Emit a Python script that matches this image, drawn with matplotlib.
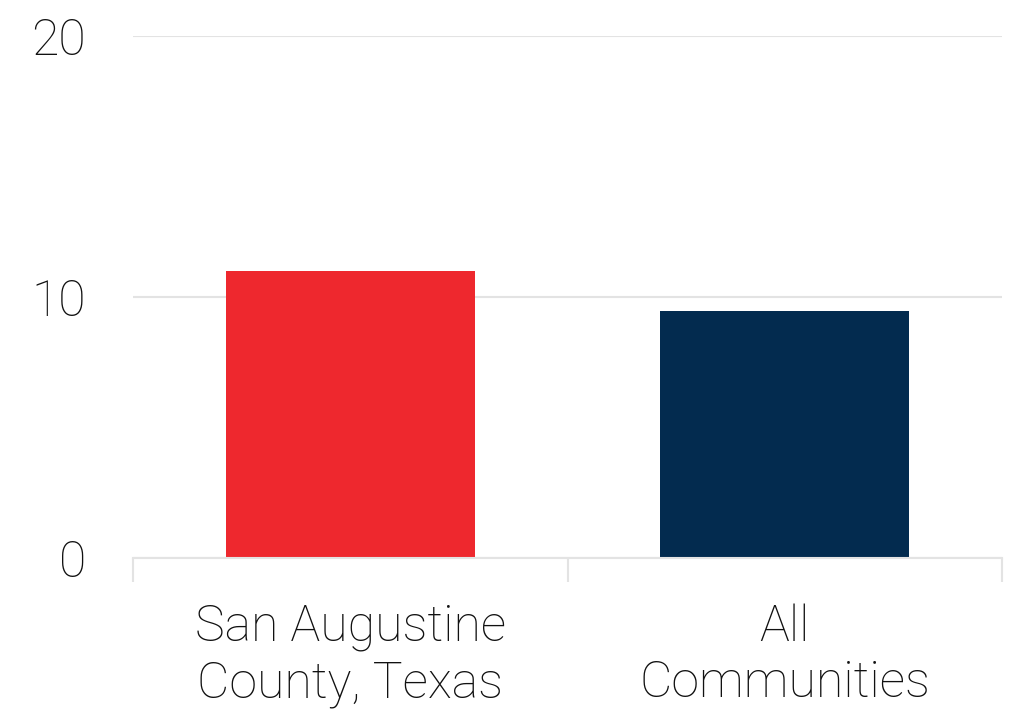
import numpy as np
import matplotlib.pyplot as plt

categories = ['San Augustine\nCounty, Texas', 'All\nCommunities']
values = [11.0, 9.45]
bar_colors = ['#EE282E', '#032B4F']
y_ticks = [0, 10, 20]

plt.rcParams['font.family'] = ['Roboto', 'DejaVu Sans']
plt.rcParams['font.weight'] = 'light'

fig = plt.figure(figsize=(10.2, 7.13), dpi=100)
ax = fig.add_axes([133 / 1020, 1 - 558 / 713, 869 / 1020, 522 / 713])

x = np.arange(len(categories))
ax.bar(x, values, width=0.573, color=bar_colors, zorder=2)

ax.set_xlim(-0.5, len(categories) - 0.5)
ax.set_ylim(0, 20)
ax.set_yticks(y_ticks)
ax.set_yticklabels([str(t) for t in y_ticks])
ax.yaxis.grid(True, color='#E3E3E3', linewidth=1.5, zorder=0)
ax.set_axisbelow(True)

# category separators below the baseline
ax.set_xticks([-0.5, 0.5, 1.5], minor=True)
ax.set_xticks(x)
ax.set_xticklabels(categories, linespacing=1.22)
ax.tick_params(axis='x', which='major', length=0, pad=33, labelsize=36, colors='#111111')
ax.tick_params(axis='x', which='minor', length=17, width=1.5, color='#E3E3E3')
ax.tick_params(axis='y', length=0, pad=34, labelsize=36, colors='#111111')
for lbl in ax.get_yticklabels():
    lbl.set_verticalalignment('center_baseline')

for s in ['top', 'right', 'left']:
    ax.spines[s].set_visible(False)
ax.spines['bottom'].set_color('#E3E3E3')
ax.spines['bottom'].set_linewidth(1.5)

fig.savefig('out.png', dpi=100)
